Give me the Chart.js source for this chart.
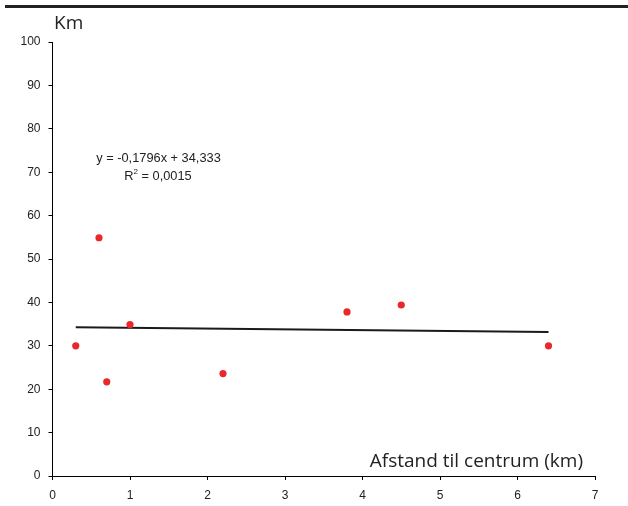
<!DOCTYPE html>
<html>
<head>
<meta charset="utf-8">
<script src="https://cdn.jsdelivr.net/npm/chart.js@4/dist/chart.umd.min.js"></script>
<style>
  html, body { margin: 0; padding: 0; background: #fff; }
  #wrap { width: 628px; height: 506px; }
</style>
</head>
<body>
<div id="wrap"><canvas id="c" width="628" height="506"></canvas></div>
<script>
// Distance to the city centre (km) and kilometres travelled
const distance = [0.3, 0.6, 0.7, 1.0, 2.2, 3.8, 4.5, 6.4];
const km = [30.0, 54.9, 21.7, 34.9, 23.6, 37.8, 39.4, 30.0];

// Linear trend: y = slope * x + intercept
const slope = -0.1796;
const intercept = 34.333;
const equationText = 'y = -0,1796x + 34,333';
const rSquaredText = ' = 0,0015';

const yTicks = [0, 10, 20, 30, 40, 50, 60, 70, 80, 90, 100];
const xTicks = [0, 1, 2, 3, 4, 5, 6, 7];

const points = distance.map((x, i) => ({ x: x, y: km[i] }));
const xMin = Math.min(...distance), xMax = Math.max(...distance);
const trend = [xMin, xMax].map(x => ({ x: x, y: slope * x + intercept }));

const tickFont = { family: '"Liberation Sans", Arial, sans-serif', size: 12 };

const decorations = {
  id: 'decorations',
  afterDraw(chart) {
    const ctx = chart.ctx;
    ctx.save();
    // rule across the top
    ctx.fillStyle = '#222';
    ctx.fillRect(5, 5, 623, 3);
    // axis titles
    ctx.fillStyle = '#222';
    ctx.font = '19px "Open Sans", "DejaVu Sans", sans-serif';
    ctx.textBaseline = 'middle';
    ctx.textAlign = 'left';
    ctx.fillText('Km', 54, 24);
    ctx.textAlign = 'right';
    ctx.fillText('Afstand til centrum (km)', 583, 462);
    // trend equation
    ctx.font = '12.8px "Liberation Sans", Arial, sans-serif';
    ctx.textAlign = 'center';
    ctx.fillText(equationText, 158.5, 158);
    // R² with a raised, smaller 2
    const rW = ctx.measureText('R').width;
    const restW = ctx.measureText(rSquaredText).width;
    ctx.font = '8px "Liberation Sans", Arial, sans-serif';
    const supW = ctx.measureText('2').width;
    const total = rW + supW + restW;
    let x0 = 158 - total / 2;
    ctx.textAlign = 'left';
    ctx.font = '12.8px "Liberation Sans", Arial, sans-serif';
    ctx.fillText('R', x0, 176);
    ctx.font = '8px "Liberation Sans", Arial, sans-serif';
    ctx.fillText('2', x0 + rW, 172);
    ctx.font = '12.8px "Liberation Sans", Arial, sans-serif';
    ctx.fillText(rSquaredText, x0 + rW + supW, 176);
    ctx.restore();
  }
};

new Chart(document.getElementById('c'), {
  type: 'scatter',
  data: {
    datasets: [
      {
        label: 'Trend',
        type: 'line',
        data: trend,
        borderColor: '#1a1a1a',
        borderWidth: 2,
        pointRadius: 0,
        fill: false,
        order: 2
      },
      {
        label: 'Km',
        data: points,
        backgroundColor: '#e8282b',
        borderWidth: 0,
        pointRadius: 3.6,
        order: 1
      }
    ]
  },
  options: {
    responsive: false,
    animation: false,
    layout: { padding: { left: 0, right: 33, top: 42, bottom: 0 } },
    plugins: {
      legend: { display: false },
      tooltip: { enabled: false }
    },
    scales: {
      x: {
        type: 'linear',
        min: 0, max: 7,
        afterBuildTicks(scale) { scale.ticks = xTicks.map(v => ({ value: v })); },
        afterFit(scale) { scale.height = 30; },
        border: { display: true, color: '#000', width: 1 },
        grid: { display: true, drawOnChartArea: false, drawTicks: true, tickLength: 4, color: '#000' },
        ticks: { color: '#222', font: tickFont, padding: 8, maxRotation: 0 }
      },
      y: {
        type: 'linear',
        min: 0, max: 100,
        afterBuildTicks(scale) { scale.ticks = yTicks.map(v => ({ value: v })); },
        afterFit(scale) { scale.width = 52.5; },
        border: { display: true, color: '#000', width: 1 },
        grid: { display: true, drawOnChartArea: false, drawTicks: true, tickLength: 4, color: '#000' },
        ticks: { color: '#222', font: tickFont, padding: 8 }
      }
    }
  },
  plugins: [decorations]
});
</script>
</body>
</html>
